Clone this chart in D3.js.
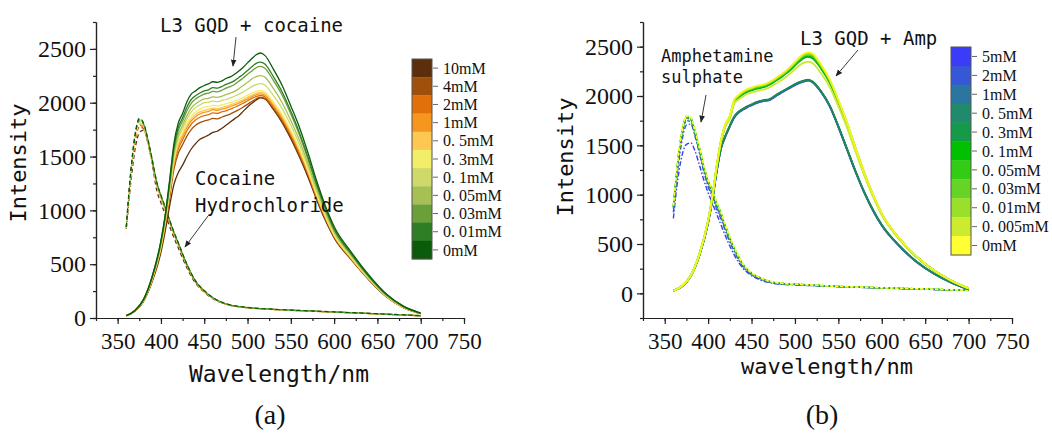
<!DOCTYPE html>
<html><head><meta charset="utf-8">
<script src="https://cdn.jsdelivr.net/npm/d3@7"></script>
<style>
body{margin:0;background:#fff;}
svg{display:block;}
</style></head>
<body><svg id="c" width="1052" height="435"></svg>
<script>
// ---------- shared data ----------
const wlSolid = [360,370,380,390,400,405,410,415,420,425,430,435,440,445,450,455,460,465,470,475,480,485,490,495,500,505,510,515,520,530,540,550,560,570,580,590,600,620,640,660,680,700];
const wlDashed = [360,365,370,375,380,385,390,395,400,405,410,415,420,430,440,450,460,470,480,500,520,550,600,650,700];
const xTickValues = [350,400,450,500,550,600,650,700,750];
const yTickValues = [0,500,1000,1500,2000,2500];

// ---------- (a) cocaine ----------
const cocaineLabels = ["10mM","4mM","2mM","1mM","0. 5mM","0. 3mM","0. 1mM","0. 05mM","0. 03mM","0. 01mM","0mM"];
const cocaineColors = ["#5c2e0b","#a0500a","#e2700a","#f7961e","#fdc851","#f2ee6a","#cfd96a","#a6c053","#6a9f39","#2e7e24","#0a5c0a"];
const cocSolid10 = [20,63,155,340,610,810,1040,1240,1350,1420,1500,1570,1620,1660,1680,1700,1725,1735,1760,1790,1820,1850,1880,1920,1960,1995,2025,2045,2035,1935,1815,1665,1495,1305,1095,905,745,540,356,200,96,40];
const cocSolid4 = [21,65,160,352,640,855,1115,1380,1530,1610,1690,1750,1790,1815,1830,1840,1855,1850,1865,1880,1895,1915,1935,1960,1985,2012,2037,2050,2040,1945,1830,1685,1515,1325,1110,920,755,545,360,203,98,41];
const cocSolid2 = [21,66,162,358,650,870,1140,1415,1570,1655,1740,1800,1840,1865,1880,1890,1905,1900,1915,1925,1940,1958,1975,1995,2018,2040,2057,2067,2055,1960,1845,1700,1530,1340,1120,928,760,550,362,204,98,41];
const cocSolid1 = [22,66,163,362,660,885,1160,1440,1600,1685,1770,1830,1870,1895,1910,1920,1935,1930,1940,1950,1965,1980,1995,2015,2035,2057,2073,2082,2070,1975,1860,1715,1545,1350,1130,935,765,553,364,205,99,41];
const cocSolid05 = [22,67,164,365,665,895,1170,1455,1620,1705,1790,1850,1890,1915,1930,1940,1950,1945,1955,1965,1980,1995,2010,2030,2050,2072,2088,2097,2085,1990,1875,1730,1560,1360,1140,940,770,557,366,206,100,42];
const cocSolid03 = [22,67,165,368,670,900,1180,1470,1640,1725,1815,1875,1915,1940,1960,1965,1975,1970,1980,1990,2000,2015,2030,2050,2070,2090,2105,2112,2100,2005,1890,1745,1570,1370,1145,945,775,560,368,207,100,42];
const cocSolid01 = [22,68,166,372,680,915,1200,1500,1670,1760,1850,1915,1955,1980,2000,2005,2015,2010,2020,2030,2045,2060,2080,2100,2125,2150,2168,2177,2165,2065,1945,1790,1610,1400,1170,965,790,570,375,210,102,42];
const cocSolid005 = [22,68,168,375,690,925,1220,1530,1700,1790,1880,1950,1990,2015,2035,2040,2055,2050,2060,2075,2090,2105,2130,2160,2190,2220,2243,2252,2238,2130,2000,1835,1650,1430,1195,985,805,580,380,214,104,43];
const cocSolid003 = [22,69,170,380,700,940,1240,1560,1740,1830,1925,1995,2035,2060,2080,2090,2105,2100,2115,2135,2150,2170,2200,2230,2265,2295,2325,2337,2320,2205,2070,1895,1700,1470,1225,1005,820,590,385,218,106,44];
const cocSolid001 = [22,70,172,385,710,950,1260,1590,1770,1860,1960,2030,2065,2090,2110,2120,2140,2135,2150,2170,2185,2205,2235,2265,2300,2335,2365,2377,2360,2240,2100,1920,1720,1490,1240,1020,830,595,390,220,108,44];
const cocSolid0 = [22,70,175,390,720,960,1280,1620,1810,1900,2010,2080,2110,2140,2160,2175,2195,2190,2200,2225,2240,2265,2295,2330,2370,2410,2445,2462,2440,2310,2160,1970,1770,1530,1270,1040,850,610,400,225,110,45];
const cocDash10 = [830,1240,1560,1720,1745,1630,1430,1190,1070,960,850,745,650,465,322,240,180,142,118,95,84,72,55,38,20];
const cocDash4 = [832,1285,1620,1775,1760,1622,1440,1245,1117,1007,890,780,680,485,334,246,183,143,118,95,83,71,54,37,20];
const cocDash2 = [833,1298,1640,1790,1768,1628,1443,1247,1120,1010,892,782,682,487,336,247,184,143,118,95,83,71,54,38,20];
const cocDash1 = [835,1305,1650,1800,1775,1632,1446,1250,1122,1012,894,784,684,489,337,248,185,144,119,95,84,72,55,38,21];
const cocDash05 = [836,1312,1660,1808,1780,1636,1450,1252,1125,1015,896,786,686,490,338,249,186,144,119,96,84,72,55,38,21];
const cocDash03 = [838,1318,1665,1815,1785,1640,1452,1255,1127,1017,898,788,688,492,339,250,186,145,119,96,84,72,55,38,21];
const cocDash01 = [840,1325,1672,1825,1790,1645,1456,1258,1130,1020,900,790,690,493,340,251,187,145,120,96,84,72,55,38,21];
const cocDash005 = [842,1330,1680,1832,1795,1648,1460,1262,1132,1022,903,793,693,495,341,252,188,146,120,97,85,73,56,39,21];
const cocDash003 = [848,1335,1685,1840,1800,1650,1462,1265,1135,1025,905,795,695,496,342,253,188,146,121,97,85,73,56,39,21];
const cocDash001 = [845,1340,1690,1845,1805,1655,1465,1268,1138,1028,908,798,698,498,343,254,189,147,121,97,85,73,56,39,22];
const cocDash0 = [850,1350,1700,1855,1810,1660,1470,1270,1140,1030,910,800,700,500,345,255,190,148,122,98,86,74,57,40,22];

// ---------- (b) amphetamine ----------
const ampLabels = ["5mM","2mM","1mM","0. 5mM","0. 3mM","0. 1mM","0. 05mM","0. 03mM","0. 01mM","0. 005mM","0mM"];
const ampColors = ["#3b3bfa","#3658d6","#2b76a0","#1f8a6c","#149a48","#00c000","#33cc14","#66d424","#99e02a","#cceb2e","#ffff33"];
const ampSolid5 = [25,71,173,386,713,952,1240,1470,1590,1690,1780,1830,1860,1885,1905,1925,1940,1950,1955,1980,2010,2035,2060,2085,2110,2130,2145,2155,2140,2040,1895,1685,1455,1225,1016,836,687,480,318,199,109,40];
const ampSolid2 = [25,72,174,388,716,955,1245,1475,1595,1695,1785,1835,1865,1890,1910,1930,1945,1955,1960,1985,2015,2040,2065,2090,2115,2135,2150,2159,2144,2044,1899,1690,1460,1230,1020,840,690,482,320,200,110,40];
const ampSolid1 = [25,72,175,389,718,958,1248,1478,1598,1698,1788,1838,1868,1893,1913,1933,1948,1958,1963,1988,2018,2043,2068,2093,2118,2138,2153,2162,2147,2047,1902,1692,1462,1232,1022,842,692,483,321,200,110,40];
const ampSolid05 = [25,72,175,390,720,960,1250,1480,1600,1700,1790,1840,1870,1895,1915,1935,1950,1960,1965,1990,2020,2045,2070,2095,2120,2140,2155,2165,2150,2050,1905,1695,1465,1235,1025,845,695,485,322,201,111,41];
const ampSolid03 = [25,74,178,395,730,978,1285,1540,1699,1779,1935,1983,2017,2042,2056,2071,2081,2091,2111,2136,2165,2195,2229,2266,2308,2350,2382,2396,2384,2280,2136,1934,1707,1453,1206,989,801,554,370,232,128,50];
const ampSolid01 = [25,74,178,396,732,980,1288,1544,1703,1783,1940,1988,2022,2047,2061,2076,2086,2096,2116,2141,2170,2200,2234,2272,2314,2356,2388,2402,2390,2285,2140,1937,1710,1455,1208,990,802,555,371,233,128,50];
const ampSolid005 = [25,74,179,397,734,983,1291,1548,1708,1788,1946,1995,2030,2055,2069,2084,2094,2104,2124,2149,2179,2209,2243,2282,2326,2370,2403,2419,2407,2300,2152,1946,1718,1461,1213,994,805,557,372,233,128,50];
const ampSolid003 = [25,75,179,398,736,985,1294,1552,1712,1792,1950,2000,2035,2060,2074,2089,2099,2109,2129,2154,2184,2214,2249,2288,2332,2376,2410,2426,2414,2306,2158,1950,1722,1464,1215,996,806,558,373,234,129,50];
const ampSolid001 = [25,75,180,399,738,988,1297,1556,1716,1796,1955,2005,2040,2065,2080,2095,2105,2115,2135,2160,2190,2220,2255,2294,2338,2382,2416,2433,2421,2312,2163,1955,1726,1467,1218,998,808,559,374,234,129,50];
const ampSolid0005 = [25,74,178,396,732,980,1285,1540,1695,1770,1920,1965,1995,2020,2035,2048,2058,2068,2085,2108,2135,2162,2195,2232,2272,2310,2335,2347,2335,2230,2090,1895,1680,1430,1190,980,795,550,370,232,128,50];
const ampSolid0 = [25,75,180,400,740,990,1300,1560,1720,1800,1960,2010,2045,2070,2085,2100,2110,2120,2140,2165,2195,2225,2260,2300,2345,2390,2425,2442,2430,2320,2170,1960,1730,1470,1220,1000,810,560,375,235,130,50];
const ampDash5 = [760,1150,1400,1510,1525,1440,1300,1150,1020,910,800,690,580,390,255,180,135,110,95,85,78,68,55,42,30];
const ampDash2 = [820,1250,1550,1705,1715,1590,1420,1235,1080,975,850,750,630,425,272,190,146,115,100,89,80,68,54,41,29];
const ampDash1 = [860,1300,1600,1750,1740,1605,1430,1250,1100,1000,870,770,650,440,280,196,150,118,102,91,81,69,55,42,30];
const ampDash05 = [875,1325,1625,1775,1760,1625,1455,1275,1125,1025,895,795,670,455,290,202,155,121,104,92,82,69,55,42,30];
const ampDash03 = [878,1330,1632,1782,1768,1633,1463,1283,1133,1033,903,803,676,459,293,204,156,122,105,93,83,70,56,43,30];
const ampDash01 = [880,1335,1638,1788,1772,1638,1468,1288,1138,1038,908,808,680,462,295,205,157,122,105,93,83,70,56,43,30];
const ampDash005 = [882,1338,1640,1790,1775,1640,1470,1290,1140,1040,910,810,682,463,296,206,157,123,106,93,83,70,56,43,30];
const ampDash003 = [884,1340,1642,1792,1778,1642,1472,1292,1142,1042,912,812,684,465,297,207,158,123,106,94,84,71,57,44,31];
const ampDash001 = [885,1342,1645,1795,1780,1645,1475,1295,1145,1045,915,815,686,466,298,208,158,124,107,94,84,71,57,44,31];
const ampDash0005 = [888,1345,1648,1798,1782,1648,1478,1298,1148,1048,918,818,688,468,299,209,159,124,107,94,84,71,57,44,31];
const ampDash0 = [890,1350,1650,1800,1785,1650,1480,1300,1150,1050,920,820,690,470,300,210,160,125,108,95,85,72,58,45,32];

const cocSolid = [cocSolid10,cocSolid4,cocSolid2,cocSolid1,cocSolid05,cocSolid03,cocSolid01,cocSolid005,cocSolid003,cocSolid001,cocSolid0];
const cocDash = [cocDash10,cocDash4,cocDash2,cocDash1,cocDash05,cocDash03,cocDash01,cocDash005,cocDash003,cocDash001,cocDash0];
const ampSolid = [ampSolid5,ampSolid2,ampSolid1,ampSolid05,ampSolid03,ampSolid01,ampSolid005,ampSolid003,ampSolid001,ampSolid0005,ampSolid0];
const ampDash = [ampDash5,ampDash2,ampDash1,ampDash05,ampDash03,ampDash01,ampDash005,ampDash003,ampDash001,ampDash0005,ampDash0];

// ---------- drawing ----------
const svg = d3.select("#c");
const mono = "'DejaVu Sans Mono', monospace";
const serif = "'Liberation Serif','Times New Roman',serif";

const defs = svg.append("defs");
defs.append("marker").attr("id","arr").attr("viewBox","0 0 10 10").attr("refX",9).attr("refY",5)
  .attr("markerWidth",7).attr("markerHeight",7).attr("orient","auto-start-reverse").attr("markerUnits","userSpaceOnUse")
  .append("path").attr("d","M0,1 L10,5 L0,9 Z").attr("fill","#222");

function panel(cfg){
  const g = svg.append("g");
  const x = d3.scaleLinear().domain([325,750]).range(cfg.xr);
  const y = d3.scaleLinear().domain(cfg.yd).range([318,22]);
  const line = d3.line().x(d=>x(d[0])).y(d=>y(d[1])).curve(d3.curveMonotoneX);

  // minor ticks
  const xMinor = d3.range(325,751,25);
  const yMinor = d3.range(cfg.yd[0], cfg.yd[1]+1, 250);
  g.append("g").attr("transform","translate(0,318)")
    .call(d3.axisBottom(x).tickValues(xMinor).tickSize(3).tickFormat("").tickSizeOuter(0))
    .call(a=>a.selectAll("line,path").attr("stroke","#222").attr("stroke-width",1.2));
  g.append("g").attr("transform",`translate(${cfg.xr[0]},0)`)
    .call(d3.axisLeft(y).tickValues(yMinor).tickSize(3).tickFormat("").tickSizeOuter(0))
    .call(a=>a.selectAll("line,path").attr("stroke","#222").attr("stroke-width",1.2));
  // major ticks
  const xa = g.append("g").attr("transform","translate(0,318)")
    .call(d3.axisBottom(x).tickValues(xTickValues).tickFormat(d3.format("d")).tickSize(6).tickPadding(9).tickSizeOuter(0));
  xa.selectAll("line,path").attr("stroke","#222").attr("stroke-width",1.2);
  xa.selectAll("text").attr("font-size",23).attr("fill","#111").attr("font-family",serif);
  const ya = g.append("g").attr("transform",`translate(${cfg.xr[0]},0)`)
    .call(d3.axisLeft(y).tickValues(yTickValues).tickFormat(d3.format("d")).tickSize(6).tickPadding(4).tickSizeOuter(0));
  ya.selectAll("line,path").attr("stroke","#222").attr("stroke-width",1.2);
  ya.selectAll("text").attr("font-size",24).attr("fill","#111").attr("font-family",serif);

  // curves
  const cl = g.append("g");
  cfg.dash.forEach((arr,i)=>{
    cl.append("path").datum(wlDashed.map((w,j)=>[w,arr[j]]))
      .attr("d",line).attr("fill","none").attr("stroke",cfg.colors[i])
      .attr("stroke-width",cfg.dw).attr("stroke-dasharray",cfg.dashStyle(i));
  });
  cfg.solid.forEach((arr,i)=>{
    cl.append("path").datum(wlSolid.map((w,j)=>[w,arr[j]]))
      .attr("d",line).attr("fill","none").attr("stroke",cfg.lineColors ? cfg.lineColors[i] : cfg.colors[i]).attr("stroke-width",cfg.sw);
  });

  // legend colour bar
  const lg = g.append("g");
  const bh = (cfg.bar.y1-cfg.bar.y0)/cfg.labels.length;
  cfg.labels.forEach((lab,i)=>{
    const yy = cfg.bar.y0 + i*bh;
    lg.append("rect").attr("x",cfg.bar.x).attr("y",yy).attr("width",cfg.bar.w).attr("height",bh+0.3)
      .attr("fill",cfg.colors[i]);
    lg.append("line").attr("x1",cfg.bar.x+cfg.bar.w+1).attr("x2",cfg.bar.x+cfg.bar.w+6)
      .attr("y1",yy+bh/2).attr("y2",yy+bh/2).attr("stroke","#666").attr("stroke-width",1);
    lg.append("text").attr("x",cfg.bar.x+cfg.bar.w+11).attr("y",yy+bh/2).attr("dy","0.35em")
      .attr("font-family",serif).attr("font-size",16).attr("fill","#111").text(lab);
  });
  lg.append("rect").attr("x",cfg.bar.x).attr("y",cfg.bar.y0).attr("width",cfg.bar.w).attr("height",cfg.bar.y1-cfg.bar.y0)
    .attr("fill","none").attr("stroke","#555").attr("stroke-width",1);

  // axis titles
  g.append("text").attr("transform",`translate(${cfg.ylab[0]},${cfg.ylab[1]}) rotate(-90)`)
    .attr("text-anchor","middle").attr("dy","0.35em").attr("font-family",mono).attr("font-size",22).attr("fill","#111").text("Intensity");
  g.append("text").attr("x",cfg.xlab[0]).attr("y",cfg.xlab[1]).attr("text-anchor","middle")
    .attr("font-family",mono).attr("font-size",cfg.xlab[2]).attr("fill","#111").text(cfg.xlab[3]);
  g.append("text").attr("x",cfg.sub[0]).attr("y",424).attr("text-anchor","middle")
    .attr("font-family",serif).attr("font-size",28).attr("fill","#111").text(cfg.sub[1]);

  // annotations
  cfg.notes.forEach(n=>{
    g.append("text").attr("x",n[0]).attr("y",n[1]).attr("font-family",mono).attr("font-size",n[2]).attr("fill","#111").text(n[3]);
  });
  cfg.arrows.forEach(a=>{
    g.append("line").attr("x1",a[0]).attr("y1",a[1]).attr("x2",a[2]).attr("y2",a[3])
      .attr("stroke","#222").attr("stroke-width",0.9).attr("marker-end","url(#arr)");
  });
}

panel({
  xr:[96,464], yd:[0,2750], colors:cocaineColors, labels:cocaineLabels,
  solid:cocSolid, dash:cocDash, sw:1.3, dw:1.2, dashStyle:()=> "4,3",
  bar:{x:412,w:20,y0:59,y1:259},
  ylab:[18,163], xlab:[279,382,23,"Wavelength/nm"], sub:[270,"(a)"],
  notes:[[160,32,19,"L3 GQD + cocaine"],[195,185,19,"Cocaine"],[195,212,19,"Hydrochloride"]],
  arrows:[[236,37,233,66],[208,216,185,247]]
});
panel({
  xr:[643,1012], yd:[-250,2750], colors:ampColors, labels:ampLabels,
  lineColors:["#3b3bfa","#3658d6","#2a7a80","#1e8a50","#149a48","#00c000","#33cc14","#66d424","#99e02a","#cceb2e","#f4f41e"],
  solid:ampSolid, dash:ampDash, sw:1.8, dw:1.4,
  dashStyle:i=> i<=1 ? "5,2,1.5,2" : "3,2",
  bar:{x:951,w:20,y0:47,y1:255},
  ylab:[565,157], xlab:[827,374,22,"wavelength/nm"], sub:[822,"(b)"],
  notes:[[800,45,19,"L3 GQD + Amp"],[661,62,17,"Amphetamine"],[661,83,17,"sulphate"]],
  arrows:[[858,50,836,76],[706,95,701,122]]
});
</script>
</body></html>
